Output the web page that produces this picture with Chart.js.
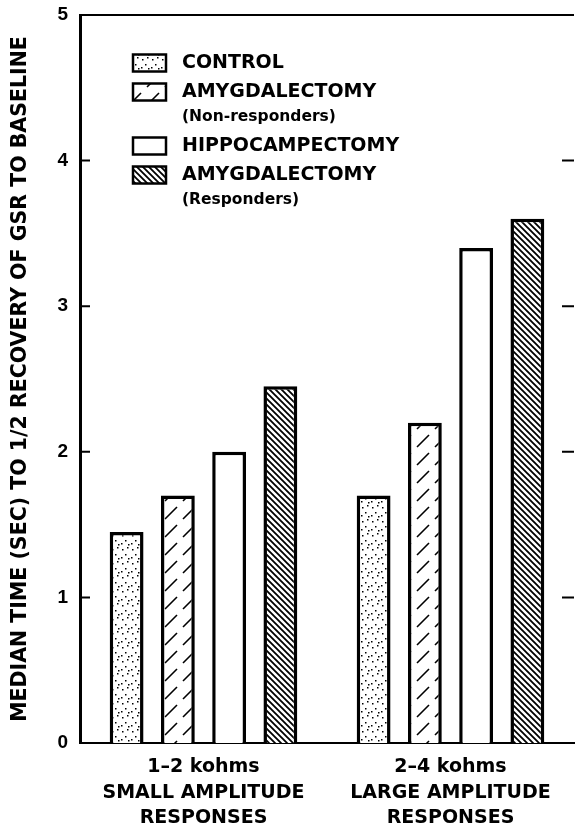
<!DOCTYPE html>
<html>
<head>
<meta charset="utf-8">
<script src="https://cdn.jsdelivr.net/npm/chart.js@4"></script>
<style>
  body { margin: 0; background: #fff; }
  #wrap { width: 575px; height: 830px; position: relative; }
</style>
</head>
<body>
<div id="wrap"><canvas id="gsrChart"></canvas></div>
<script>
// data
const categories = [
    ['1\u20132 kohms', 'SMALL AMPLITUDE', 'RESPONSES'],
    ['2\u20134 kohms', 'LARGE AMPLITUDE', 'RESPONSES']
];
const controlValues = [1.45, 1.7];
const amygNonRespValues = [1.7, 2.2];
const hippoValues = [2.0, 3.4];
const amygRespValues = [2.45, 3.6];
const seriesLabels = ['CONTROL', 'AMYGDALECTOMY', 'HIPPOCAMPECTOMY', 'AMYGDALECTOMY'];
const seriesSubLabels = ['', '(Non-responders)', '', '(Responders)'];
const yTickValues = [0, 1, 2, 3, 4, 5];
const yTitle = 'MEDIAN TIME (SEC) TO 1/2 RECOVERY OF GSR TO BASELINE';

// fill patterns
function makePattern(kind) {
    const c = document.createElement('canvas');
    const g = c.getContext('2d');
    if (kind === 'dots') {
        c.width = 10; c.height = 14;
        g.fillStyle = '#fff'; g.fillRect(0, 0, 10, 14);
        g.fillStyle = '#000';
        [[2, 3], [7, 1], [5, 8], [1, 11], [8, 12]].forEach(p => g.fillRect(p[0], p[1], 1.5, 1.5));
    } else if (kind === 'sparse') {
        c.width = 18; c.height = 18;
        g.fillStyle = '#fff'; g.fillRect(0, 0, 18, 18);
        g.strokeStyle = '#000'; g.lineWidth = 1.6;
        g.beginPath(); g.moveTo(3, 15); g.lineTo(15, 3); g.stroke();
    } else if (kind === 'dense') {
        c.width = 6; c.height = 6;
        g.fillStyle = '#fff'; g.fillRect(0, 0, 6, 6);
        g.strokeStyle = '#000'; g.lineWidth = 1.8;
        g.beginPath();
        g.moveTo(-1, -1); g.lineTo(7, 7);
        g.moveTo(-4, 2); g.lineTo(4, 10);
        g.moveTo(2, -4); g.lineTo(10, 4);
        g.stroke();
    } else {
        c.width = 4; c.height = 4;
        g.fillStyle = '#fff'; g.fillRect(0, 0, 4, 4);
    }
    return g.createPattern(c, 'repeat');
}

const fills = [makePattern('dots'), makePattern('sparse'), makePattern('plain'), makePattern('dense')];

// inward tick marks and top frame line
const framePlugin = {
    id: 'frame',
    afterDraw(chart) {
        const {ctx, chartArea} = chart;
        const y = chart.scales.y;
        ctx.save();
        ctx.strokeStyle = '#000';
        ctx.lineWidth = 2;
        ctx.beginPath();
        ctx.moveTo(chartArea.left, chartArea.top);
        ctx.lineTo(chartArea.right, chartArea.top);
        yTickValues.forEach(v => {
            if (v === 0 || v === 5) return;
            const py = y.getPixelForValue(v);
            ctx.moveTo(chartArea.left, py);
            ctx.lineTo(chartArea.left + 10, py);
            ctx.moveTo(chartArea.right - 12, py);
            ctx.lineTo(chartArea.right, py);
        });
        ctx.stroke();
        ctx.restore();
    }
};

// legend with sub-labels drawn inside the plot
const legendPlugin = {
    id: 'boxLegend',
    afterDraw(chart) {
        const {ctx, chartArea} = chart;
        const boxX = chartArea.left + 53;
        const textX = chartArea.left + 102;
        let rowY = chartArea.top + 48;
        ctx.save();
        ctx.textBaseline = 'middle';
        chart.data.datasets.forEach((ds, i) => {
            ctx.fillStyle = ds.backgroundColor;
            ctx.fillRect(boxX, rowY - 8.5, 33, 17);
            ctx.strokeStyle = '#000';
            ctx.lineWidth = 2.5;
            ctx.strokeRect(boxX, rowY - 8.5, 33, 17);
            ctx.fillStyle = '#000';
            ctx.font = 'bold 19px "DejaVu Sans"';
            ctx.fillText(ds.label, textX, rowY);
            if (seriesSubLabels[i]) {
                rowY += 25;
                ctx.font = 'bold 15.5px "DejaVu Sans"';
                ctx.fillText(seriesSubLabels[i], textX, rowY);
            }
            rowY += 29;
        });
        ctx.restore();
    }
};

const ctx = document.getElementById('gsrChart').getContext('2d');
const gsrChart = new Chart(ctx, {
    type: 'bar',
    data: {
        labels: categories,
        datasets: [
            { label: seriesLabels[0], data: controlValues, backgroundColor: fills[0] },
            { label: seriesLabels[1], data: amygNonRespValues, backgroundColor: fills[1] },
            { label: seriesLabels[2], data: hippoValues, backgroundColor: fills[2] },
            { label: seriesLabels[3], data: amygRespValues, backgroundColor: fills[3] }
        ].map(ds => Object.assign(ds, {
            borderColor: '#000',
            borderWidth: 3.5,
            categoryPercentage: 0.83,
            barPercentage: 0.66
        }))
    },
    options: {
        responsive: true,
        maintainAspectRatio: false,
        animation: false,
        layout: { padding: { left: 0, right: 1, top: 15, bottom: 0 } },
        plugins: {
            legend: { display: false },
            tooltip: { enabled: false }
        },
        scales: {
            x: {
                grid: { display: false, drawTicks: false },
                border: { display: true, color: '#000', width: 2 },
                ticks: {
                    color: '#000',
                    font: { family: 'DejaVu Sans', weight: 'bold', size: 19, lineHeight: 1.32 },
                    padding: 12,
                    maxRotation: 0,
                    autoSkip: false
                },
                afterFit(scale) {
                    scale.height = 87;
                    scale.paddingLeft = 0;
                    scale.paddingRight = 0;
                }
            },
            y: {
                min: 0,
                max: 5,
                afterBuildTicks(scale) { scale.ticks = yTickValues.map(v => ({ value: v })); },
                grid: { display: false, drawTicks: false },
                border: { display: true, color: '#000', width: 3 },
                ticks: {
                    color: '#000',
                    font: { family: 'Liberation Sans', weight: 'bold', size: 19 },
                    padding: 12
                },
                title: {
                    display: true,
                    text: yTitle,
                    color: '#000',
                    font: { family: 'DejaVu Sans', weight: 'bold', size: 20.5 },
                    padding: { top: 8, bottom: 0 }
                },
                afterFit(scale) {
                    scale.width = 80;
                    scale.paddingTop = 0;
                    scale.paddingBottom = 0;
                }
            }
        }
    },
    plugins: [framePlugin, legendPlugin]
});
</script>
</body>
</html>
